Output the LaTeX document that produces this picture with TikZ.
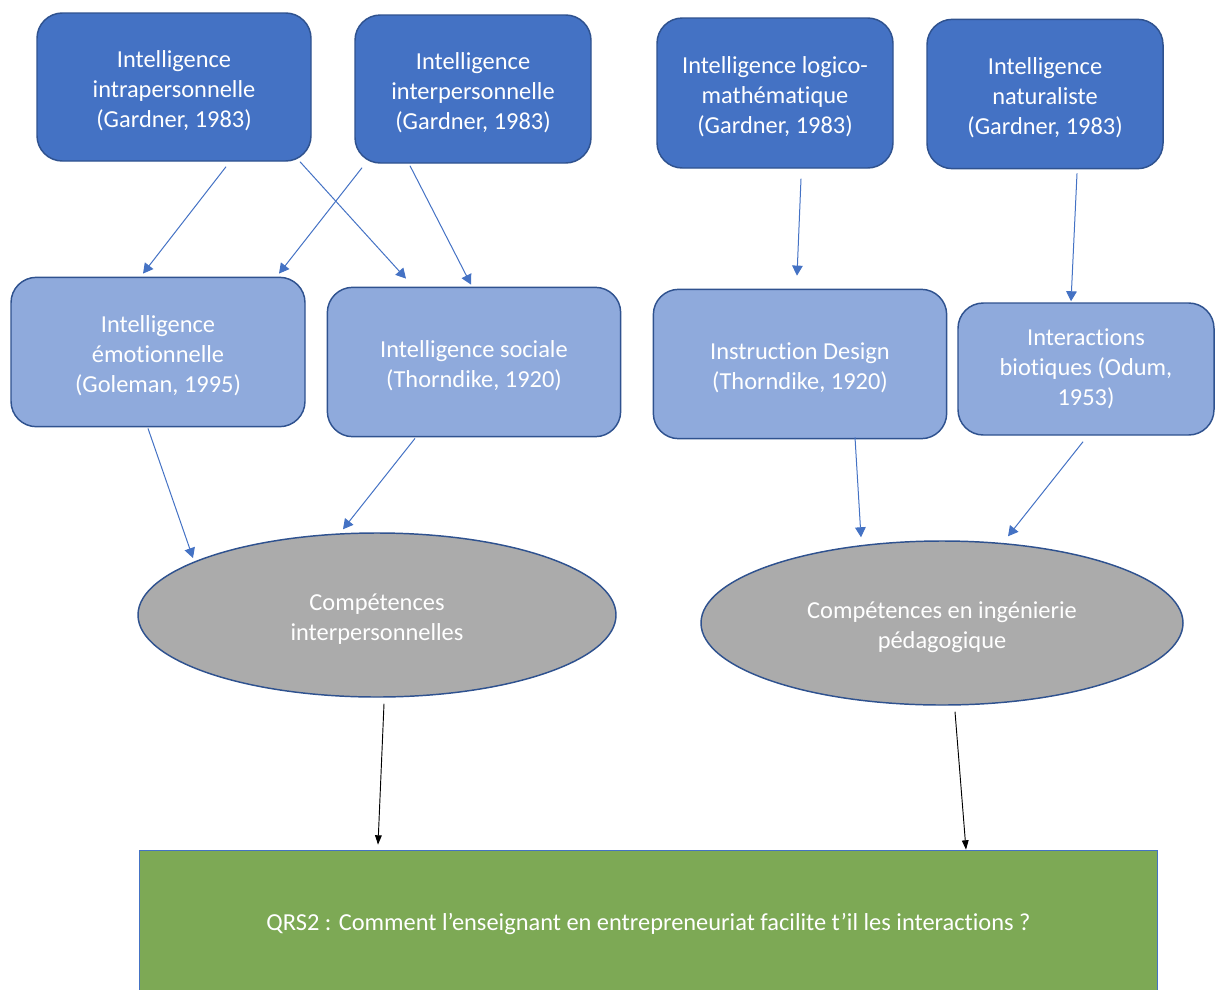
\documentclass[tikz,border=0pt]{standalone}
\usepackage{fontspec}
\setmainfont{Carlito}[Ligatures=NoCommon]
\usepackage{tikz}
\usetikzlibrary{positioning, shapes.geometric, arrows.meta, calc}

\definecolor{darkblue}{HTML}{4472C4}
\definecolor{lineblue}{HTML}{2F528F}
\definecolor{lightblue}{HTML}{8FAADC}
\definecolor{ovalgrey}{HTML}{ABABAB}
\definecolor{qrsgreen}{HTML}{7DA955}

% pushes a block of lines down a little
\newcommand{\lowtop}{\rule{0pt}{1em}}

\begin{document}
\begin{tikzpicture}[x=0.75pt, y=-0.75pt, font=\fontsize{18.3}{22.5}\selectfont]
      \tikzstyle{theory} = [rectangle, rounded corners=19pt, draw=lineblue, line width=1.1pt, fill=darkblue, text=white, align=center, inner sep=0pt]
      \tikzstyle{concept} = [rectangle, rounded corners=19pt, draw=lineblue, line width=1.1pt, fill=lightblue, text=white, align=center, inner sep=0pt]
      \tikzstyle{skill} = [ellipse, draw=lineblue, line width=1.1pt, fill=ovalgrey, text=white, align=center, inner sep=0pt]
      \tikzstyle{question} = [rectangle, draw=darkblue, line width=0.8pt, fill=qrsgreen, text=white, align=center, inner sep=0pt]
      \tikzstyle{arrow} = [draw=darkblue, line width=0.75pt, -{Triangle[length=7.5pt, width=8pt]}]
      \tikzstyle{darrow} = [draw=black, line width=0.7pt, -{Triangle[length=7pt, width=5pt]}]

      \useasboundingbox (0,0) rectangle (1216,989);

      \node (intra) [theory, minimum width=205.5pt, minimum height=111pt] at (174,87) {\lowtop Intelligence\\intrapersonnelle\\(Gardner, 1983)};
      \node (inter) [theory, minimum width=177pt, minimum height=111pt] at (473,89) {\lowtop Intelligence\\interpersonnelle\\(Gardner, 1983)};
      \node (logico) [theory, minimum width=177pt, minimum height=112.5pt] at (775,93) {\lowtop Intelligence logico-\\mathématique\\(Gardner, 1983)};
      \node (natur) [theory, minimum width=177pt, minimum height=112pt] at (1045,94) {\lowtop Intelligence\\naturaliste\\(Gardner, 1983)};

      \node (emot) [concept, minimum width=220.5pt, minimum height=112pt] at (158,352) {\lowtop Intelligence\\émotionnelle\\(Goleman, 1995)};
      \node (social) [concept, minimum width=220pt, minimum height=112pt] at (474,362) {\lowtop Intelligence sociale\\(Thorndike, 1920)};
      \node (instr) [concept, minimum width=220pt, minimum height=112pt] at (800,364) {\lowtop Instruction Design\\(Thorndike, 1920)};
      \node (biot) [concept, minimum width=192pt, minimum height=99pt] at (1086,369) {Interactions\\biotiques (Odum,\\1953)};

      \node (compA) [skill, minimum width=358.5pt, minimum height=123pt] at (377,615) {\lowtop Compétences\\interpersonnelles};
      \node (compB) [skill, minimum width=361.5pt, minimum height=123pt] at (942,623) {\lowtop Compétences en ingénierie\\pédagogique};

      \node (qrs) [question, minimum width=763pt, minimum height=110pt] at (648.5,923.5) {QRS2 : Comment l’enseignant en entrepreneuriat facilite t’il les interactions ?};

      \draw [arrow] ($(intra.south)+(52,5)$) -- ($(emot.north)+(-15,-3)$);
      \draw [arrow] ($(intra.south)+(126,0)$) -- ($(social.north)+(-68,-8)$);
      \draw [arrow] ($(inter.south)+(-111,4)$) -- ($(emot.north)+(121,-3)$);
      \draw [arrow] ($(inter.south)+(-63,2)$) -- ($(social.north)+(-3,-2)$);
      \draw [arrow] ($(logico.south)+(26,10)$) -- ($(instr.north)+(-3,-13)$);
      \draw [arrow] ($(natur.south)+(32,4)$) -- ($(biot.north)+(-15,-1)$);

      \draw [arrow] ($(emot.south)+(-10,1)$) -- ($(compA.center)+(-184,-57)$);
      \draw [arrow] ($(social.south)+(-59,1)$) -- ($(compA.north)+(-34,-3)$);
      \draw [arrow] ($(instr.south)+(55,-2)$) -- ($(compB.north)+(-81,-3)$);
      \draw [arrow] ($(biot.south)+(-3,6)$) -- ($(compB.north)+(66,-4)$);

      \draw [darrow] ($(compA.south)+(7,6)$) -- ($(qrs.north)+(-270.5,-5)$);
      \draw [darrow] ($(compB.south)+(13,6)$) -- ($(qrs.north)+(317.5,0)$);

    \end{tikzpicture}
\end{document}
